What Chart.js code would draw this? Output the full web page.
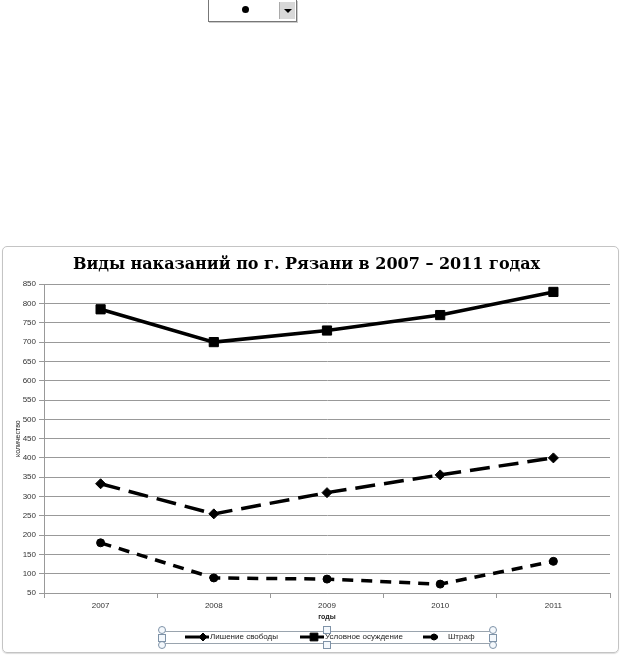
<!DOCTYPE html>
<html>
<head>
<meta charset="utf-8">
<script src="https://cdn.jsdelivr.net/npm/chart.js@4"></script>
<style>
  html, body { margin: 0; padding: 0; background: #fff; }
  body { width: 621px; height: 655px; position: relative; overflow: hidden; }
  #frame { position: absolute; left: 2px; top: 246px; width: 615px; height: 405px;
           border: 1px solid #c4c4c4; border-radius: 5px; box-shadow: 0 1px 1px #ddd; }
  #wrap { position: absolute; left: 0; top: 0; width: 621px; height: 655px; }
  #combo { position: absolute; left: 208px; top: 0; width: 87px; height: 21px;
           border: 1px solid #777; border-top: none; background: #fff; box-shadow: 1px 1px 0 #ccc; }
  #combo .dot { position: absolute; left: 33px; top: 6px; width: 7px; height: 7px; border-radius: 50%; background: #000; }
  #combo .btn { position: absolute; right: 1px; top: 2px; width: 15px; height: 17px; background: #d8d8d8;
                border-left: 1px solid #aaa; }
  #combo .btn:after { content: ""; position: absolute; left: 4px; top: 7px; border-left: 4px solid transparent;
                      border-right: 4px solid transparent; border-top: 4px solid #000; }
  #sel { position: absolute; left: 162px; top: 631px; width: 330px; height: 11px;
         border-top: 1px solid #9aa4ae; border-bottom: 1px solid #9aa4ae; }
  .h { position: absolute; width: 6px; height: 6px; border: 1px solid #7f93a8; background: #f4f8fc; }
  .c { border-radius: 50%; }
</style>
</head>
<body>
<div id="combo"><div class="dot"></div><div class="btn"></div></div>
<div id="frame"></div>
<div id="wrap"><canvas id="kindsChart" width="621" height="655"></canvas></div>
<div id="sel"></div>
<div class="h c" style="left:158px;top:626px"></div>
<div class="h c" style="left:489px;top:626px"></div>
<div class="h c" style="left:158px;top:641px"></div>
<div class="h c" style="left:489px;top:641px"></div>
<div class="h" style="left:323px;top:626px"></div>
<div class="h" style="left:323px;top:641px"></div>
<div class="h" style="left:158px;top:634px"></div>
<div class="h" style="left:489px;top:634px"></div>
<script>
// data
var years = ['2007', '2008', '2009', '2010', '2011'];
var prison = [333, 255, 310, 356, 400];      // Лишение свободы
var suspended = [785, 700, 730, 770, 830];   // Условное осуждение
var fine = [180, 89, 86, 73, 132];           // Штраф
var yTicks = { min: 50, max: 850, step: 50 };

var gridColor = '#999999';
var labelFont = { family: 'Liberation Sans', size: 8 };

// legend drawn by hand: line sample with marker, like Excel does it
var legendItems = [
  { x: 185, len: 24, mark: 18 },
  { x: 300, len: 24, mark: 14 },
  { x: 423, len: 15, mark: 11, textX: 448 }
];

var handLegend = {
  id: 'handLegend',
  afterDraw: function (chart) {
    var ctx = chart.ctx;
    var y = 637;
    ctx.save();
    chart.data.datasets.forEach(function (ds, i) {
      var it = legendItems[i];
      ctx.strokeStyle = '#000';
      ctx.lineWidth = 3;
      ctx.setLineDash([]);
      ctx.beginPath();
      ctx.moveTo(it.x, y);
      ctx.lineTo(it.x + it.len, y);
      ctx.stroke();
      ctx.fillStyle = '#000';
      ctx.lineWidth = 1;
      Chart.helpers.drawPoint(ctx, {
        pointStyle: ds.pointStyle, radius: ds.pointRadius - 1, rotation: 0, borderWidth: 1
      }, it.x + it.mark, y);
      ctx.font = '8px "Liberation Sans"';
      ctx.fillStyle = '#222';
      ctx.textBaseline = 'middle';
      ctx.textAlign = 'left';
      ctx.fillText(ds.label, it.textX || (it.x + it.len + 1), y);
    });
    ctx.restore();
  }
};

var ctx = document.getElementById('kindsChart').getContext('2d');
var chart = new Chart(ctx, {
  type: 'line',
  data: {
    labels: years,
    datasets: [{
      label: 'Лишение свободы',
      data: prison,
      borderColor: '#000',
      backgroundColor: '#000',
      borderWidth: 3.5,
      borderDash: [20, 9],
      pointStyle: 'rectRot',
      pointRadius: 5,
      pointBorderWidth: 1
    }, {
      label: 'Условное осуждение',
      data: suspended,
      borderColor: '#000',
      backgroundColor: '#000',
      borderWidth: 3.5,
      pointStyle: 'rect',
      pointRadius: 6.5,
      pointBorderWidth: 1
    }, {
      label: 'Штраф',
      data: fine,
      borderColor: '#000',
      backgroundColor: '#000',
      borderWidth: 3.5,
      borderDash: [11, 8],
      pointStyle: 'circle',
      pointRadius: 4,
      pointBorderWidth: 1
    }]
  },
  options: {
    responsive: false,
    animation: false,
    devicePixelRatio: 1,
    layout: { padding: { left: 3, right: 11, top: 247, bottom: 30 } },
    plugins: {
      legend: { display: false },
      tooltip: { enabled: false },
      title: {
        display: true,
        text: 'Виды наказаний по г. Рязани в 2007 – 2011 годах',
        color: '#000',
        font: { family: 'DejaVu Serif', size: 16, weight: 'bold' },
        padding: { top: 8, bottom: 10 }
      }
    },
    scales: {
      x: {
        offset: true,
        grid: { offset: true, drawOnChartArea: false, tickLength: 5, color: gridColor },
        border: { color: gridColor },
        ticks: { font: labelFont, color: '#333', padding: 3 },
        title: {
          display: true, text: 'годы', color: '#222',
          font: { family: 'Liberation Sans', size: 7, weight: 'bold' },
          padding: { top: 0, bottom: 4 }
        },
        afterFit: function (scale) { scale.height = 32; }
      },
      y: {
        min: yTicks.min,
        max: yTicks.max,
        ticks: { stepSize: yTicks.step, font: labelFont, color: '#333', padding: 3 },
        grid: { color: gridColor, tickLength: 5 },
        border: { color: gridColor },
        title: {
          display: true, text: 'количество', color: '#222',
          font: { family: 'Liberation Sans', size: 7 },
          padding: { top: 11, bottom: 0 }
        },
        afterFit: function (scale) { scale.width = 41; }
      }
    }
  },
  plugins: [handLegend]
});
</script>
</body>
</html>
